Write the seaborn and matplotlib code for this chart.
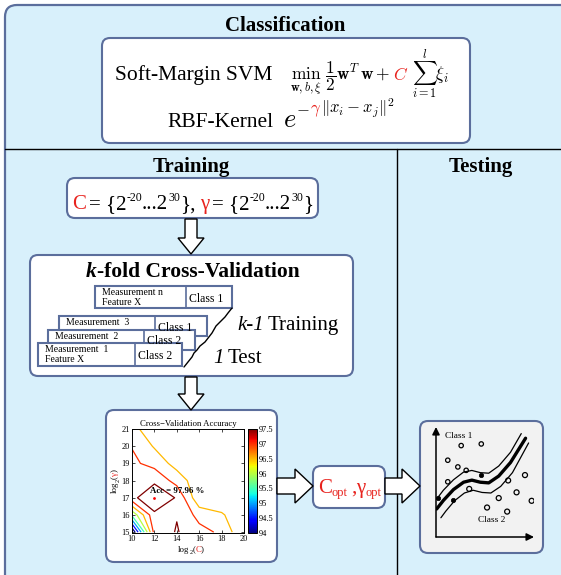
import numpy as np
import matplotlib
matplotlib.use("Agg")
import matplotlib.pyplot as plt
import seaborn as sns
from matplotlib.patches import FancyBboxPatch, Polygon
from matplotlib.colors import Normalize
from matplotlib.cm import ScalarMappable

# ---------------- data ----------------
log2C = [10, 12, 14, 16, 18, 20]
log2gamma = [15, 16, 17, 18, 19, 20, 21]
acc_g15 = [93.50, 97.18, 97.536, 97.176, 96.905, 96.05]
acc_g16 = [95.60, 97.385, 97.476, 96.824, 96.55, 96.20]
acc_g17 = [97.35, 97.96, 97.45, 96.10, 96.20, 96.20]
acc_g18 = [97.25, 97.385, 96.807, 96.15, 96.20, 96.15]
acc_g19 = [97.10, 96.835, 96.295, 96.20, 96.15, 96.10]
acc_g20 = [96.98, 96.45, 96.20, 96.15, 96.10, 96.10]
acc_g21 = [96.65, 96.20, 96.15, 96.10, 96.10, 96.05]
contour_levels = [94, 94.5, 95, 95.5, 96, 96.5, 97, 97.5]
cbar_ticks = [94, 94.5, 95, 95.5, 96, 96.5, 97, 97.5]
xticks_cv = [10, 12, 14, 16, 18, 20]
yticks_cv = [15, 16, 17, 18, 19, 20, 21]
best_C, best_gamma, best_acc = 12, 17, 97.96

class1_x = [2.57, 4.62, 1.20, 2.23, 3.08, 1.20]
class1_y = [8.31, 8.46, 6.98, 6.37, 6.06, 5.02]
class2_x = [3.39, 7.36, 9.08, 8.22, 6.40, 9.76, 5.21, 7.26]
class2_y = [4.37, 5.14, 5.63, 4.06, 3.54, 3.29, 2.68, 2.31]
sv_x = [4.62, 0.24, 1.71]
sv_y = [5.63, 3.54, 3.32]
mid_x = [0.07, 0.75, 1.78, 2.81, 3.66, 4.52, 5.38, 6.40, 7.60, 9.14]
mid_y = [2.55, 3.32, 4.31, 4.98, 5.17, 4.98, 4.92, 5.54, 6.77, 8.98]
up_x = [0.07, 0.75, 1.78, 2.81, 3.66, 4.52, 5.38, 6.40, 7.60, 8.70]
up_y = [3.45, 4.25, 5.20, 5.90, 6.05, 5.85, 5.80, 6.45, 7.70, 9.40]
lo_x = [0.50, 1.00, 1.90, 2.90, 3.80, 4.70, 5.60, 6.60, 7.80, 9.45]
lo_y = [1.75, 2.35, 3.30, 4.00, 4.25, 4.05, 4.00, 4.60, 5.85, 8.55]

# ---------------- style ----------------
sns.set_theme(style="white")
plt.rcParams["font.family"] = ["Liberation Serif", "DejaVu Serif"]
plt.rcParams["text.color"] = "black"
plt.rcParams["xtick.color"] = "black"
plt.rcParams["ytick.color"] = "black"
plt.rcParams["axes.labelcolor"] = "black"
plt.rcParams["mathtext.fontset"] = "custom"
plt.rcParams["mathtext.rm"] = "Liberation Serif"
plt.rcParams["mathtext.it"] = "Liberation Serif:italic"
plt.rcParams["mathtext.bf"] = "Liberation Serif:bold"

EDGE = "#5b6e9c"
BG = "#d8f0fb"
RED = "#e8231e"

W, H = 561, 575
fig = plt.figure(figsize=(W / 100, H / 100), dpi=100)
ax = fig.add_axes([0, 0, 1, 1])
ax.set_xlim(0, W)
ax.set_ylim(H, 0)
ax.axis("off")
R = fig.canvas.get_renderer()


def rect(x0, y0, x1, y1):
    return [x0 / W, 1 - y1 / H, (x1 - x0) / W, (y1 - y0) / H]


def rbox(x0, y0, x1, y1, fc="white", ec=EDGE, lw=1.5, r=8, z=2):
    ax.add_patch(FancyBboxPatch((x0, y0), x1 - x0, y1 - y0,
                                boxstyle=f"round,pad=0,rounding_size={r}",
                                fc=fc, ec=ec, lw=lw, zorder=z))


def seq(x, y, parts, z=5):
    """parts: list of (text, dict). dict keys: gap, dy, and text kwargs."""
    for s, kw in parts:
        kw = dict(kw)
        gap = kw.pop("gap", 0)
        dy = kw.pop("dy", 0)
        kw.setdefault("color", "black")
        t = ax.text(x + gap, y - dy, s, ha="left", va="baseline", zorder=z, **kw)
        x = x + gap + t.get_window_extent(renderer=R).width
    return x


def seq_width(parts):
    tmp = []
    for s, kw in parts:
        kw = {k: v for k, v in kw.items() if k not in ("gap", "dy")}
        tmp.append(ax.text(0, 0, s, **kw))
    w = sum(t.get_window_extent(renderer=R).width for t in tmp) + sum(kw.get("gap", 0) for s, kw in parts)
    for t in tmp:
        t.remove()
    return w


def down_arrow(cx, y0, y1, bw=6, hw=13, hl=16):
    pts = [(cx - bw, y0), (cx + bw, y0), (cx + bw, y1 - hl), (cx + hw, y1 - hl),
           (cx, y1), (cx - hw, y1 - hl), (cx - bw, y1 - hl)]
    ax.add_patch(Polygon(pts, closed=True, fc="white", ec="black", lw=1.0, zorder=4))


def right_arrow(x0, x1, cy, bw=8, hw=17, hl=18):
    pts = [(x0, cy - bw), (x1 - hl, cy - bw), (x1 - hl, cy - hw), (x1, cy),
           (x1 - hl, cy + hw), (x1 - hl, cy + bw), (x0, cy + bw)]
    ax.add_patch(Polygon(pts, closed=True, fc="white", ec="black", lw=1.0, zorder=4))


# ---------------- background panels ----------------
rbox(5, 5, 640, 660, fc=BG, ec=EDGE, lw=1.6, r=12, z=0)
ax.plot([5, W], [149, 149], color="black", lw=1.0, zorder=1)
ax.plot([397.5, 397.5], [149, H], color="black", lw=1.0, zorder=1)

# titles
TB = dict(fontsize=15, fontweight="bold", ha="center", va="baseline", color="black")
ax.text(285, 31, "Classification", **TB)
ax.text(191, 172, "Training", **TB)
ax.text(481, 172, "Testing", **TB)

# ---------------- classification box ----------------
rbox(102, 38, 470, 143)
seq(115, 80, [("Soft-Margin SVM", dict(fontsize=15.5))])
seq(290, 80, [
    (r"$\min_{\mathbf{w},b,\xi}\ \dfrac{1}{2}\mathbf{w}^T\mathbf{w}+$", dict(fontsize=12.5, math_fontfamily="cm")),
    (r"$C$", dict(fontsize=12.5, math_fontfamily="cm", color=RED, gap=3)),
    (r"$\sum_{i=1}^{l}\xi_i$", dict(fontsize=12.5, math_fontfamily="cm", gap=3)),
])
seq(167, 127, [("RBF-Kernel", dict(fontsize=15.5))])
seq(283, 127, [
    (r"$e$", dict(fontsize=19, math_fontfamily="cm")),
    (r"$-$", dict(fontsize=12, math_fontfamily="cm", dy=14)),
    (r"$\gamma$", dict(fontsize=12, math_fontfamily="cm", dy=14, color=RED)),
    (r"$\|x_i - x_j\|^2$", dict(fontsize=12, math_fontfamily="cm", dy=14)),
])

# ---------------- parameter grid box ----------------
rbox(67, 178, 318, 218)
F = 15
seq(72, 209, [
    ("C", dict(fontsize=F, color=RED)),
    ("= {2", dict(fontsize=F, gap=3)),
    ("-20", dict(fontsize=8.5, dy=8)),
    ("...2", dict(fontsize=F)),
    ("30", dict(fontsize=8.5, dy=8)),
    ("},", dict(fontsize=F)),
    ("γ", dict(fontsize=F, color=RED, gap=4)),
    ("= {2", dict(fontsize=F, gap=3)),
    ("-20", dict(fontsize=8.5, dy=8)),
    ("...2", dict(fontsize=F)),
    ("30", dict(fontsize=8.5, dy=8)),
    ("}", dict(fontsize=F)),
])

down_arrow(191, 219, 254)

# ---------------- k-fold box ----------------
rbox(30, 255, 353, 376)
seq(86, 277, [("k", dict(fontsize=15.5, fontweight="bold", style="italic")),
              ("-fold Cross-Validation", dict(fontsize=15.5, fontweight="bold"))])


def card(x0, y0, x1, y1, xd, l1, l2, cls, dyl):
    ax.add_patch(plt.Rectangle((x0, y0), x1 - x0, y1 - y0, fc="white", ec=EDGE, lw=1.5, zorder=6))
    ax.plot([xd, xd], [y0, y1], color=EDGE, lw=1.2, zorder=6)
    ax.text(x0 + 7, y0 + 9, l1, fontsize=7, ha="left", va="baseline", zorder=7)
    if l2:
        ax.text(x0 + 7, y0 + 19, l2, fontsize=7, ha="left", va="baseline", zorder=7)
    ax.text(xd + 3, y0 + dyl, cls, fontsize=8.5, ha="left", va="baseline", zorder=7)


card(95, 286, 232, 308, 186, "Measurement n", "Feature X", "Class 1", 16)
card(59, 316, 207, 336, 155, "Measurement  3", None, "Class 1", 15)
card(48, 330, 195, 350, 144, "Measurement  2", None, "Class 2", 14)
card(38, 343, 182, 366, 135, "Measurement  1", "Feature X", "Class 2", 16)

tear_x = [232, 228, 225, 220, 216, 212, 205, 200, 197, 194, 192, 188, 184]
tear_y = [308, 313, 317, 322, 326, 333, 342, 346, 350, 353, 357, 362, 367]
ax.plot(tear_x, tear_y, color="black", lw=1.0, zorder=8)

seq(237, 330, [("k-1", dict(fontsize=15, style="italic")), ("Training", dict(fontsize=15, gap=4))])
seq(213, 363, [("1", dict(fontsize=15, style="italic")), ("Test", dict(fontsize=15, gap=4))])

down_arrow(191, 377, 410)

# ---------------- CV accuracy box ----------------
rbox(106, 410, 277, 562)
norm = Normalize(vmin=94, vmax=97.5)
cax = fig.add_axes(rect(132, 429, 244, 533))
Z = np.array([acc_g15, acc_g16, acc_g17, acc_g18, acc_g19, acc_g20, acc_g21])
cax.contour(log2C, log2gamma, Z, levels=contour_levels, cmap="jet", norm=norm, linewidths=0.9)
sns.scatterplot(x=[best_C], y=[best_gamma], ax=cax, color="red", s=4, edgecolor="red", linewidth=0, zorder=5)
cax.text(best_C - 0.4, best_gamma + 0.15, f"Acc = {best_acc:.2f} %", fontsize=6.3, fontweight="bold",
         ha="left", va="bottom")
cax.set_xlim(10, 20)
cax.set_ylim(14.95, 21)
cax.set_xticks(xticks_cv)
cax.set_yticks(yticks_cv)
cax.tick_params(direction="in", length=2, width=0.5, labelsize=6, pad=1.5,
                top=True, right=True, bottom=True, left=True)
cax.set_facecolor("white")
for s in cax.spines.values():
    s.set_color("black")
    s.set_linewidth(0.7)
cax.set_title("Cross\u2212Validation Accuracy", fontsize=6.3, pad=2, color="black")

cbax = fig.add_axes(rect(248, 429, 257, 533))
cb = fig.colorbar(ScalarMappable(norm=norm, cmap="jet"), cax=cbax, ticks=cbar_ticks)
cb.ax.set_yticklabels([f"{t:g}" for t in cbar_ticks])
cb.ax.tick_params(direction="in", length=2, width=0.5, labelsize=6, pad=1.5, left=True, right=True)
cb.outline.set_linewidth(0.7)
cb.outline.set_edgecolor("black")

# axis labels with coloured parts
parts_x = [("log", dict(fontsize=6.3)), ("2", dict(fontsize=4.5, dy=-1.5)), ("(", dict(fontsize=6.3)),
           ("C", dict(fontsize=6.3, color=RED)), (")", dict(fontsize=6.3))]
seq(191 - seq_width(parts_x) / 2, 552, parts_x)

ytxt = [("log", 6.3, "black", 0), ("2", 4.5, "black", -1.5), ("(", 6.3, "black", 0),
        ("γ", 6.3, RED, 0), (")", 6.3, "black", 0)]
tmp = [ax.text(0, 0, s, fontsize=f) for s, f, c, d in ytxt]
ws = [t.get_window_extent(renderer=R).width for t in tmp]
for t in tmp:
    t.remove()
yy = 481 + sum(ws) / 2
for (s, f, c, d), w in zip(ytxt, ws):
    ax.text(119 - d, yy, s, fontsize=f, color=c, rotation=90, ha="left", va="bottom",
            rotation_mode="anchor", zorder=5)
    yy -= w

# ---------------- optimum box ----------------
right_arrow(277, 313, 486)
rbox(313, 466, 385, 508)
seq(318, 493, [("C", dict(fontsize=15, color=RED)), ("opt", dict(fontsize=9, color=RED, dy=-3)),
               (",", dict(fontsize=15, color=RED, gap=3)), ("γ", dict(fontsize=15, color=RED)),
               ("opt", dict(fontsize=9, color=RED, dy=-3))])
right_arrow(385, 420, 486)

# ---------------- testing box ----------------
rbox(420, 421, 543, 553, fc="#f2f2f2")
tax = fig.add_axes(rect(436, 427, 534, 537))
tax.set_xlim(0, 10)
tax.set_ylim(0, 10)
tax.axis("off")
tax.annotate("", xy=(0, 10), xytext=(0, 0),
             arrowprops=dict(arrowstyle="-|>", lw=1.1, color="black", mutation_scale=11, shrinkA=0, shrinkB=0))
tax.annotate("", xy=(10, 0), xytext=(0, 0),
             arrowprops=dict(arrowstyle="-|>", lw=1.1, color="black", mutation_scale=11, shrinkA=0, shrinkB=0))
sns.lineplot(x=up_x, y=up_y, ax=tax, sort=False, estimator=None, color="black", lw=0.9)
sns.lineplot(x=mid_x, y=mid_y, ax=tax, sort=False, estimator=None, color="black", lw=2.4)
sns.lineplot(x=lo_x, y=lo_y, ax=tax, sort=False, estimator=None, color="black", lw=0.9)
sns.scatterplot(x=class1_x, y=class1_y, ax=tax, marker="o", s=10, facecolor="none", edgecolor="black", linewidth=0.9, zorder=5)
sns.scatterplot(x=class2_x, y=class2_y, ax=tax, marker="o", s=13, facecolor="none", edgecolor="black", linewidth=0.9, zorder=5)
sns.scatterplot(x=sv_x, y=sv_y, ax=tax, marker="o", s=10, color="black", edgecolor="black", linewidth=0.5, zorder=5)
tax.text(0.9, 9.0, "Class 1", fontsize=6.7, ha="left", va="baseline", color="black")
tax.text(4.3, 1.35, "Class 2", fontsize=6.7, ha="left", va="baseline", color="black")

fig.savefig("out.png", dpi=100)
